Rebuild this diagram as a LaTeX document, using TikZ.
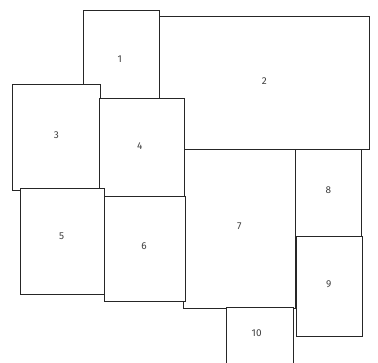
\documentclass[tikz,border=0pt]{standalone}
\usepackage{fontspec}
\setmainfont{Fira Sans}
\begin{document}
\begin{tikzpicture}[x=1pt,y=-1pt,
  box/.style={draw=black!85,line width=0.9pt,fill=white,inner sep=0pt,outer sep=0pt,anchor=north west},
  lbl/.style={font=\fontsize{10}{11}\selectfont,text=black!75,inner sep=0pt}]
\useasboundingbox (0,0) rectangle (378,363);
\clip (0,0) rectangle (378,363);
% boxes: (x,y) top-left, width, height
\node[box,minimum width=210pt,minimum height=133pt] (b2) at (159,16) {};
\node[box,minimum width=76pt,minimum height=90pt] (b1) at (83.3,10.5) {};
\node[box,minimum width=112pt,minimum height=159.5pt] (b7) at (183.7,149) {};
\node[box,minimum width=87.7pt,minimum height=106pt] (b3) at (12.3,84) {};
\node[box,minimum width=85pt,minimum height=98.7pt] (b4) at (99,98) {};
\node[box,minimum width=83.6pt,minimum height=106.3pt] (b5) at (20.7,188) {};
\node[box,minimum width=80.7pt,minimum height=105pt] (b6) at (104.3,196.7) {};
\node[box,minimum width=66pt,minimum height=87.7pt] (b8) at (295.7,149) {};
\node[box,minimum width=66.5pt,minimum height=99.3pt] (b9) at (296.2,236.7) {};
\node[box,minimum width=66.6pt,minimum height=60pt] (b10) at (226.7,307) {};
% labels
\node[lbl] (l1) at (119.7,59.3) {1};
\node[lbl] (l2) at (264.3,81) {2};
\node[lbl] (l3) at (56.3,135.3) {3};
\node[lbl] (l4) at (139.7,145.7) {4};
\node[lbl] (l5) at (61.7,236.3) {5};
\node[lbl] (l6) at (144,245.7) {6};
\node[lbl] (l7) at (239.3,226.3) {7};
\node[lbl] (l8) at (328.3,190) {8};
\node[lbl] (l9) at (328.7,284) {9};
\node[lbl] (l10) at (256.7,333) {10};
\end{tikzpicture}
\end{document}
